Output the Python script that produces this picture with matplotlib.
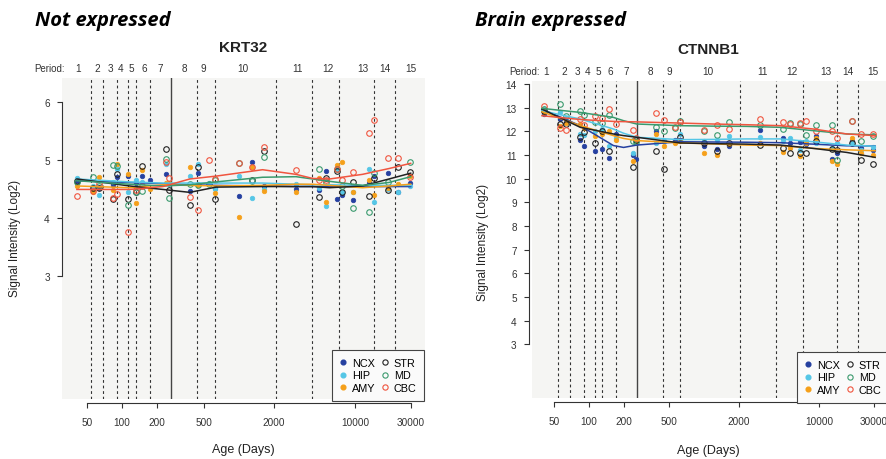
import numpy as np
import matplotlib
matplotlib.use("Agg")
import matplotlib.pyplot as plt
from matplotlib.lines import Line2D
from matplotlib.transforms import blended_transform_factory

plt.rcParams['font.family'] = ['Liberation Sans', 'DejaVu Sans']

# ---------------- data ----------------
regions = ["NCX", "HIP", "AMY", "STR", "MD", "CBC"]
colors = {"NCX": "#2540a0", "HIP": "#55c6e6", "AMY": "#f5a01a",
          "STR": "#222222", "MD": "#3a9a6e", "CBC": "#f0553f"}
filled = {"NCX": True, "HIP": True, "AMY": True, "STR": False, "MD": False, "CBC": False}

sample_days = [41, 56, 63, 84, 90, 113, 131, 148, 172, 240, 255, 380, 445, 560, 620,
               1000, 1300, 1650, 3100, 4900, 5600, 6900, 7700, 9500, 13000, 14400,
               19200, 23200, 29500]
nan = np.nan

# KRT32 (not expressed)
krt32_ncx = [4.64, 4.50, 4.52, 4.56, 4.70, 4.73, 4.60, 4.72, 4.66, 4.75, nan, 4.46, 4.78, nan, 4.52,
             4.38, 4.96, 4.55, 4.50, 4.48, 4.80, 4.33, 4.40, 4.30, 4.60, 4.72, 4.78, 4.45, 4.60]
krt32_hip = [4.68, 4.55, 4.40, 4.62, 4.85, 4.45, 4.66, 4.62, nan, 4.93, 4.58, 4.73, 4.93, 4.60, 4.50,
             4.72, 4.35, 4.50, 4.58, 4.52, 4.20, 4.84, 4.45, 4.45, 4.85, 4.28, 4.50, 4.45, 4.55]
krt32_amy = [4.55, 4.45, 4.71, 4.48, 4.92, 4.75, 4.25, 4.82, 4.50, 4.60, 4.60, 4.87, 4.57, nan, 4.43,
             4.01, 4.87, 4.47, 4.45, 4.69, 4.28, 4.91, 4.97, 4.45, 4.65, 4.40, 4.52, 4.58, 4.72]
krt32_str = [4.63, 4.52, 4.52, 4.32, 4.76, 4.32, 4.44, 4.89, nan, 5.19, 4.48, 4.22, 4.88, nan, 4.33,
             nan, 4.65, 5.16, 3.89, 4.36, 4.69, 4.80, 4.44, 4.62, 4.38, 4.68, 4.48, 4.87, 4.79]
krt32_md = [4.62, 4.71, 4.55, 4.91, 4.90, 4.22, 4.45, 4.47, nan, 5.02, 4.35, 4.58, 4.56, 4.59, 4.66,
            4.95, 4.63, 5.05, nan, 4.84, 4.62, 4.85, 4.55, 4.17, 4.11, 4.77, 4.62, nan, 4.96]
krt32_cbc = [4.38, 4.47, 4.58, 4.35, 4.42, 3.75, 4.48, 4.55, nan, 4.96, 4.68, 4.36, 4.13, 4.99, 4.67,
             4.95, 4.87, 5.22, 4.83, 4.65, 4.65, 4.85, 4.65, 4.79, 5.47, 5.69, 5.04, 5.04, 4.70]

# CTNNB1 (brain expressed)
ctnnb1_ncx = [12.75, 12.52, 12.40, 11.65, 11.40, 11.18, 11.25, 10.86, 11.90, 11.00, 10.85, 12.00, 11.60, 11.65, 11.65,
              11.40, 11.25, 11.40, 12.05, 11.70, 11.50, 11.55, 11.45, 11.80, 10.85, 11.10, 11.60, 11.30, 11.20]
ctnnb1_hip = [12.95, 12.80, 12.55, 11.90, 11.85, 12.00, 12.10, 11.40, 11.70, 11.10, 11.55, 11.50, 11.60, nan, 11.90,
              11.60, 11.65, 11.80, 11.75, 11.60, 11.70, 11.20, 11.60, 11.50, 11.30, 11.50, 11.50, 11.20, 11.35]
ctnnb1_amy = [12.80, 12.21, 12.35, 12.30, 12.15, 11.80, 11.90, 12.00, 11.65, 10.76, 11.60, 11.90, 11.40, 11.50, 11.60,
              11.07, 11.00, 11.45, 11.50, 11.11, 11.30, 10.97, 11.50, 11.70, 10.75, 10.62, 11.70, 11.10, 11.00]
ctnnb1_str = [12.85, 12.30, 12.30, 11.75, 11.96, 11.50, 12.03, 11.18, nan, 10.48, 11.65, 11.18, 10.41, nan, 11.75,
              11.50, 11.15, 11.50, 11.42, 11.30, 11.08, 11.10, 11.10, 11.60, 11.25, 11.20, 11.50, 10.80, 10.62]
ctnnb1_md = [12.95, 13.15, 12.66, 12.87, 12.70, 12.40, 12.35, 12.70, nan, 11.60, 11.55, 12.20, 12.00, 12.15, 12.45,
             12.00, 11.85, 12.38, 12.25, 12.10, 12.35, 12.30, 11.85, 12.25, 12.25, 10.80, 12.45, 11.60, 11.80]
ctnnb1_cbc = [13.05, 12.13, 12.07, 12.52, 12.25, 12.66, 12.55, 12.94, 12.30, 12.07, 11.70, 12.76, 12.49, 12.20, 12.40,
              12.05, 12.25, 12.10, 12.52, 12.40, 12.30, 12.35, 12.45, 12.00, 12.00, 11.70, 12.45, 11.90, 11.90]

# smoothed trend curves
krt32_curve_days = [41, 116, 224, 380, 640, 1600, 3100, 4300, 6000, 11500, 19400, 29800]
krt32_curve_ncx = [4.64, 4.61, 4.59, 4.57, 4.56, 4.55, 4.54, 4.54, 4.54, 4.54, 4.54, 4.54]
krt32_curve_hip = [4.67, 4.62, 4.60, 4.60, 4.60, 4.60, 4.58, 4.57, 4.57, 4.56, 4.56, 4.56]
krt32_curve_amy = [4.55, 4.52, 4.57, 4.56, 4.55, 4.56, 4.58, 4.58, 4.56, 4.52, 4.55, 4.58]
krt32_curve_str = [4.67, 4.55, 4.49, 4.44, 4.53, 4.54, 4.54, 4.54, 4.52, 4.55, 4.67, 4.77]
krt32_curve_md = [4.64, 4.58, 4.55, 4.57, 4.62, 4.70, 4.71, 4.67, 4.63, 4.56, 4.61, 4.71]
krt32_curve_cbc = [4.49, 4.49, 4.54, 4.67, 4.72, 4.83, 4.75, 4.68, 4.67, 4.75, 4.85, 4.94]

ctnnb1_curve_days = [39, 84, 163, 200, 260, 620, 1200, 2350, 4600, 8900, 17400, 30800]
ctnnb1_curve_ncx = [12.94, 12.24, 11.40, 11.32, 11.42, 11.56, 11.55, 11.54, 11.52, 11.46, 11.39, 11.38]
ctnnb1_curve_hip = [12.87, 12.52, 12.10, 11.92, 11.75, 11.65, 11.66, 11.68, 11.68, 11.56, 11.42, 11.37]
ctnnb1_curve_amy = [12.83, 12.24, 11.82, 11.70, 11.61, 11.51, 11.47, 11.42, 11.40, 11.28, 11.22, 11.18]
ctnnb1_curve_str = [12.94, 12.17, 11.89, 11.82, 11.75, 11.51, 11.48, 11.46, 11.42, 11.28, 11.11, 10.90]
ctnnb1_curve_md = [12.97, 12.80, 12.59, 12.45, 12.31, 12.24, 12.22, 12.21, 12.17, 12.03, 11.89, 11.85]
ctnnb1_curve_cbc = [12.66, 12.50, 12.42, 12.41, 12.40, 12.35, 12.31, 12.28, 12.24, 12.10, 11.89, 11.82]

period_boundaries = [54, 69, 90, 112, 131, 172, 442, 622, 2075, 4250, 7250, 14350, 21850]
birth_day = 264
period_labels = [str(i) for i in range(1, 16)]
period_label_days = [42, 61, 79, 98, 120, 154, 212, 342, 500, 1080, 3200, 5800, 11500, 17800, 29700]

xtick_values = [50, 100, 200, 500, 2000, 10000, 30000]
xtick_labels = ["50", "100", "200", "500", "2000", "10000", "30000"]

# ---------------- figure ----------------
W, H = 886, 460
fig = plt.figure(figsize=(W / 100, H / 100), dpi=100)


def fx(px):
    return px / W


def fy(py):
    return 1 - py / H


def draw_panel(rect, xlim, ylim, yticks, vals, cdays, curves, title, title_xy,
               ylab_xy, xlab_xy, period_prefix_x, spine_out):
    ax = fig.add_axes(rect)
    ax.set_facecolor("#f5f5f3")
    ax.set_xscale("log")
    ax.set_xlim(*xlim)
    ax.set_ylim(*ylim)
    for s in ["top", "right"]:
        ax.spines[s].set_visible(False)
    ax.spines["left"].set_bounds(yticks[0], yticks[-1])
    ax.spines["left"].set_position(("outward", spine_out))
    ax.spines["bottom"].set_bounds(xtick_values[0], xtick_values[-1])
    ax.spines["bottom"].set_position(("outward", 3))
    for s in ["left", "bottom"]:
        ax.spines[s].set_linewidth(0.8)
        ax.spines[s].set_color("#333333")
    ax.set_xticks(xtick_values)
    ax.set_xticklabels(xtick_labels)
    ax.xaxis.set_minor_locator(matplotlib.ticker.NullLocator())
    ax.set_yticks(yticks)
    ax.set_yticklabels([str(v) for v in yticks])
    ax.tick_params(axis="both", labelsize=7.2, colors="#333333", width=0.8, length=3.8)
    ax.tick_params(axis="x", pad=6)
    ax.tick_params(axis="y", pad=5)

    for b in period_boundaries:
        ax.axvline(b, color="#333333", lw=0.8, ls=(0, (2.5, 2.5)), zorder=1)
    ax.axvline(birth_day, color="#444444", lw=1.0, zorder=1)

    sd = np.array(sample_days, dtype=float)
    for r in regions:
        v = np.array(vals[r], dtype=float)
        if filled[r]:
            ax.plot(sd, v, "o", ms=3.3, mfc=colors[r], mec=colors[r], mew=0.5,
                    ls="none", zorder=3)
        else:
            ax.plot(sd, v, "o", ms=4.0, mfc="none", mec=colors[r], mew=0.8,
                    ls="none", zorder=3)
    for r in regions:
        ax.plot(cdays, curves[r], "-", color=colors[r], lw=1.1, zorder=4)

    tr = blended_transform_factory(ax.transData, ax.transAxes)
    py = 1.0 + 9.5 / (rect[3] * H)
    for lab, d in zip(period_labels, period_label_days):
        ax.text(d, py, lab, transform=tr, ha="center", va="center", fontsize=7.2,
                color="#333333", clip_on=False)
    ax.text(period_prefix_x, py, "Period:", transform=ax.transAxes, ha="right",
            va="center", fontsize=7, color="#333333", clip_on=False)

    fig.text(fx(title_xy[0]), fy(title_xy[1]), title, ha="center", va="center",
             fontsize=11, fontweight="bold", color="#222222")
    fig.text(fx(ylab_xy[0]), fy(ylab_xy[1]), "Signal Intensity (Log2)", rotation=90,
             ha="center", va="center", fontsize=8.5, color="#222222")
    fig.text(fx(xlab_xy[0]), fy(xlab_xy[1]), "Age (Days)", ha="center", va="center",
             fontsize=9, color="#222222")
    return ax


def legend_at(x, y):
    handles = []
    for r in regions:
        if filled[r]:
            h = Line2D([], [], marker="o", ls="none", ms=3.4, mfc=colors[r], mec=colors[r])
        else:
            h = Line2D([], [], marker="o", ls="none", ms=3.8, mfc="none", mec=colors[r], mew=0.8)
        handles.append(h)
    leg = fig.legend(handles, regions, ncol=2, loc="upper left",
                     bbox_to_anchor=(fx(x), fy(y)), bbox_transform=fig.transFigure,
                     fontsize=7.8, frameon=True, fancybox=False, borderaxespad=0,
                     handlelength=0.7, handletextpad=0.45, columnspacing=0.55,
                     labelspacing=0.25, borderpad=0.7)
    fr = leg.get_frame()
    fr.set_edgecolor("#444444")
    fr.set_linewidth(0.8)
    fr.set_facecolor("#fafafa")
    fr.set_alpha(1)
    return leg


krt_vals = {"NCX": krt32_ncx, "HIP": krt32_hip, "AMY": krt32_amy,
            "STR": krt32_str, "MD": krt32_md, "CBC": krt32_cbc}
krt_curves = {"NCX": krt32_curve_ncx, "HIP": krt32_curve_hip, "AMY": krt32_curve_amy,
              "STR": krt32_curve_str, "MD": krt32_curve_md, "CBC": krt32_curve_cbc}
ctn_vals = {"NCX": ctnnb1_ncx, "HIP": ctnnb1_hip, "AMY": ctnnb1_amy,
            "STR": ctnnb1_str, "MD": ctnnb1_md, "CBC": ctnnb1_cbc}
ctn_curves = {"NCX": ctnnb1_curve_ncx, "HIP": ctnnb1_curve_hip, "AMY": ctnnb1_curve_amy,
              "STR": ctnnb1_curve_str, "MD": ctnnb1_curve_md, "CBC": ctnnb1_curve_cbc}

rectL = [fx(62), fy(400), 363 / W, 321 / H]
axL = draw_panel(rectL, (10 ** 1.485, 10 ** 4.597), (0.88, 6.41), [3, 4, 5, 6],
                 krt_vals, krt32_curve_days, krt_curves, "KRT32", (243, 48),
                 (15, 238), (243, 450), 0.008, 0)

rectR = [fx(531.7), fy(399.3), 358 / W, 317.6 / H]
axR = draw_panel(rectR, (10 ** 1.502, 10 ** 4.615), (0.72, 14.14), list(range(3, 15)),
                 ctn_vals, ctnnb1_curve_days, ctn_curves, "CTNNB1", (708, 50),
                 (483, 242), (708, 451), 0.023, 2)

legend_at(332, 351)
legend_at(797, 353)

fig.text(fx(35), fy(21), "Not expressed", ha="left", va="center", fontsize=14.5,
         fontweight="bold", fontstyle="italic", family=["Open Sans", "DejaVu Sans"], color="black")
fig.text(fx(475), fy(21), "Brain expressed", ha="left", va="center", fontsize=14.5,
         fontweight="bold", fontstyle="italic", family=["Open Sans", "DejaVu Sans"], color="black")

fig.savefig("out.png", dpi=100)
